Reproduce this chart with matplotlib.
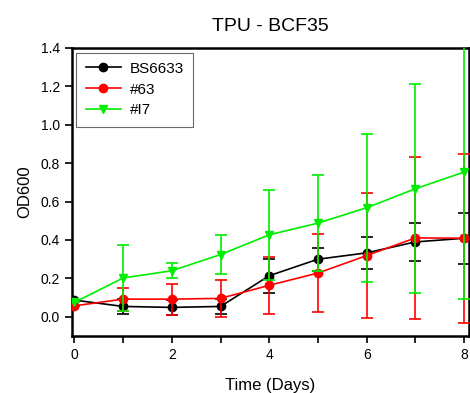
import numpy as np
import matplotlib.pyplot as plt
from matplotlib.ticker import MultipleLocator

plt.rcParams['font.family'] = ['Liberation Sans', 'DejaVu Sans']

days = [0, 1, 2, 3, 4, 5, 6, 7, 8]

bs6633 = [0.087, 0.054, 0.049, 0.054, 0.214, 0.300, 0.333, 0.390, 0.409]
bs6633_err = [0.0, 0.040, 0.037, 0.040, 0.088, 0.060, 0.085, 0.100, 0.132]

s63 = [0.057, 0.092, 0.092, 0.096, 0.164, 0.228, 0.319, 0.411, 0.409]
s63_err = [0.0, 0.060, 0.080, 0.098, 0.150, 0.205, 0.325, 0.422, 0.440]

i7 = [0.075, 0.202, 0.240, 0.324, 0.427, 0.488, 0.568, 0.667, 0.754]
i7_err = [0.0, 0.170, 0.040, 0.102, 0.235, 0.250, 0.386, 0.545, 0.660]

fig = plt.figure(figsize=(4.7, 3.93), dpi=100)
ax = fig.add_axes([0.153, 0.145, 0.845, 0.733])

series = [(bs6633, bs6633_err, 'black', 'o', 'BS6633'),
          (s63, s63_err, '#ff0000', 'o', '#63'),
          (i7, i7_err, '#00ee00', 'v', '#I7')]

for i, (vals, err, col, mk, name) in enumerate(series):
    ax.errorbar(days, vals, yerr=err, fmt='none', ecolor=col, elinewidth=1.2,
                capsize=4, capthick=1.2, zorder=3 + i)
    ax.plot(days, vals, color=col, marker=mk, markersize=6, linewidth=1.2,
            label=name, zorder=3 + i)

ax.set_xlim(-0.05, 8.1)
ax.set_ylim(-0.1, 1.4)
ax.xaxis.set_major_locator(MultipleLocator(2))
ax.xaxis.set_minor_locator(MultipleLocator(1))
ax.set_yticks(np.arange(0, 1.41, 0.2))
ax.yaxis.set_major_formatter(plt.FuncFormatter(lambda v, p: f'{v:.1f}'))

for s in ax.spines.values():
    s.set_linewidth(1.8)
ax.tick_params(direction='out', length=5, width=1.2, labelsize=10)
ax.tick_params(which='minor', direction='out', length=5, width=1.2)

ax.set_title('TPU - BCF35', fontsize=14, pad=12)
ax.set_xlabel('Time (Days)', fontsize=12, labelpad=12)
ax.set_ylabel('OD600', fontsize=12, labelpad=6)

leg = ax.legend(loc='upper left', fontsize=11, frameon=True, fancybox=False,
                edgecolor='#444444', borderaxespad=0.3, handlelength=2.3,
                handletextpad=0.6, labelspacing=0.45, borderpad=0.6)
leg.get_frame().set_linewidth(0.8)

fig.savefig('out.png', dpi=100)
